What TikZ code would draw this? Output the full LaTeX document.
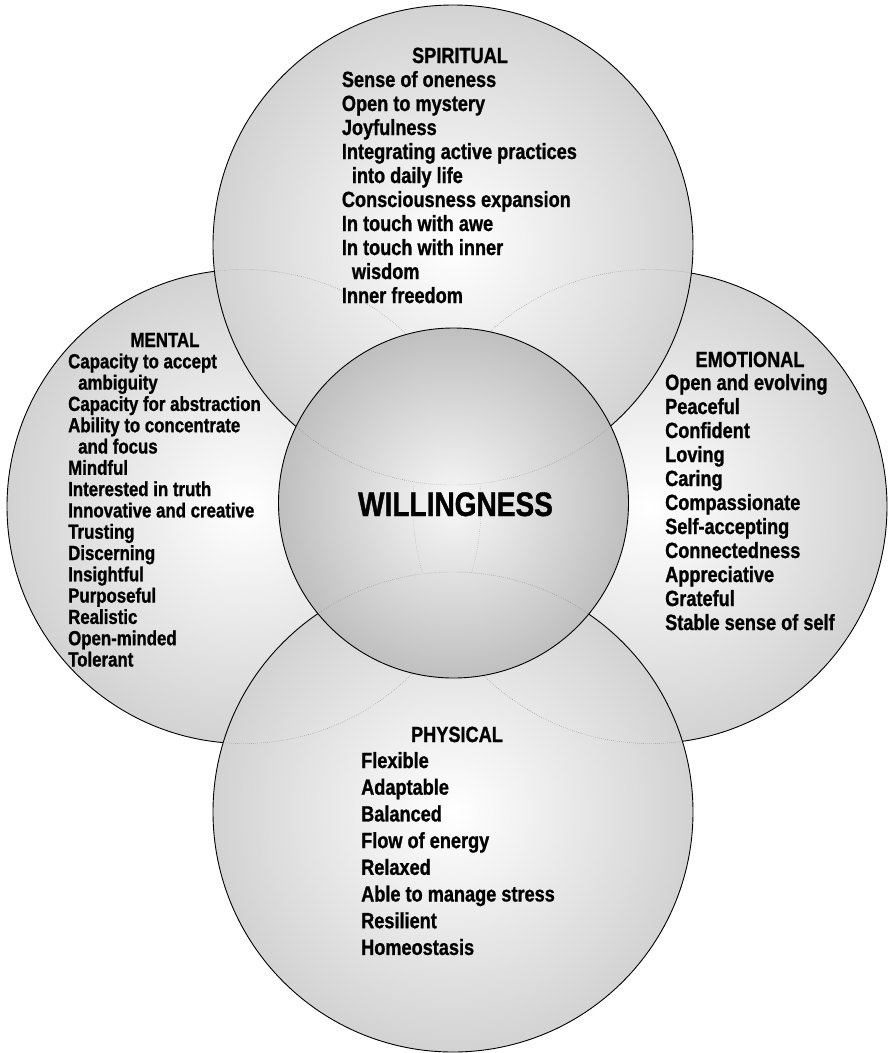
\documentclass[tikz,border=0pt]{standalone}
\usepackage{fontspec}
\setmainfont{Liberation Sans}[FakeStretch=0.825, FakeBold=1]
\pgfdeclareradialshading{bigball}{\pgfpoint{0bp}{0bp}}{color(0bp)=(white); color(50bp)=(black!35); color(100bp)=(black!35)}
\pgfdeclareradialshading{coreball}{\pgfpoint{0bp}{0bp}}{color(0bp)=(black!3); color(50bp)=(black!47); color(100bp)=(black!47)}
\begin{document}
\begin{tikzpicture}[x=1pt,y=-1pt,
  ball/.style={circle, draw=black, line width=0.9pt, shade, shading=bigball, inner sep=0pt, outer sep=0pt},
  hidden/.style={draw=black!55, line width=0.4pt, dash pattern=on 0.5pt off 1.5pt},
  item/.style={font=\fontsize{22}{24}\selectfont\bfseries, inner sep=0pt, anchor=base west},
  mitem/.style={font=\fontsize{20.4}{22}\selectfont\bfseries, inner sep=0pt, anchor=base west},
  ttl/.style={font=\fontsize{22}{24}\selectfont\bfseries, inner sep=0pt, anchor=base},
  mttl/.style={font=\fontsize{20.4}{22}\selectfont\bfseries, inner sep=0pt, anchor=base}]
\useasboundingbox (0,0) rectangle (888,1053);
% outer circles
\node[ball, minimum size=474pt] (L) at (244,506.5) {};
\node[ball, minimum size=474pt] (R) at (650,506.5) {};
\node[ball, minimum size=480pt] (T) at (453,245) {};
\node[ball, minimum size=480pt] (B) at (453,812) {};
% hidden borders seen through the upper circles
\begin{scope}
  \clip (T.center) circle (240pt);
  \draw[hidden] (L.center) circle (237pt) (R.center) circle (237pt);
\end{scope}
\begin{scope}
  \clip (B.center) circle (240pt);
  \draw[hidden] (L.center) circle (237pt) (R.center) circle (237pt);
\end{scope}
% centre circle
\node[circle, draw=black, line width=0.9pt, shade, shading=coreball, inner sep=0pt, outer sep=0pt, minimum size=350pt] (C) at (453.5,503) {};
\begin{scope}
  \clip (C.center) circle (175pt);
  \draw[hidden] (T.center) circle (240pt) (B.center) circle (240pt);
  \clip (0,485) rectangle (888,572);
  \draw[hidden, draw=black!40] (L.center) circle (237pt) (R.center) circle (237pt);
\end{scope}
\node[font=\fontsize{34}{36}\selectfont\bfseries, inner sep=0pt, anchor=base] (W) at (455.5,516) {WILLINGNESS};
% spiritual
\node[ttl] (spT) at (460,63) {SPIRITUAL};
\foreach \t [count=\i from 0] in {Sense of oneness, Open to mystery, Joyfulness, Integrating active practices, {\hspace*{10pt}into daily life}, Consciousness expansion, In touch with awe, In touch with inner, {\hspace*{10pt}wisdom}, Inner freedom}
  \node[item] (sp\i) at (341.7,{87+24*\i}) {\t};
% mental
\node[mttl] (meT) at (165,347) {MENTAL};
\foreach \t [count=\i from 0] in {Capacity to accept, {\hspace*{10pt}ambiguity}, Capacity for abstraction, Ability to concentrate, {\hspace*{10pt}and focus}, Mindful, Interested in truth, Innovative and creative, Trusting, Discerning, Insightful, Purposeful, Realistic, Open-minded, Tolerant}
  \node[mitem] (me\i) at (68,{368.3+21.3*\i}) {\t};
% emotional
\node[ttl] (emT) at (750,367) {EMOTIONAL};
\foreach \t [count=\i from 0] in {Open and evolving, Peaceful, Confident, Loving, Caring, Compassionate, Self-accepting, Connectedness, Appreciative, Grateful, Stable sense of self}
  \node[item] (em\i) at (665,{390+24*\i}) {\t};
% physical
\node[ttl] (phT) at (457,742) {PHYSICAL};
\foreach \t [count=\i from 0] in {Flexible, Adaptable, Balanced, Flow of energy, Relaxed, Able to manage stress, Resilient, Homeostasis}
  \node[item] (ph\i) at (361,{768+26.7*\i}) {\t};
\end{tikzpicture}
\end{document}
